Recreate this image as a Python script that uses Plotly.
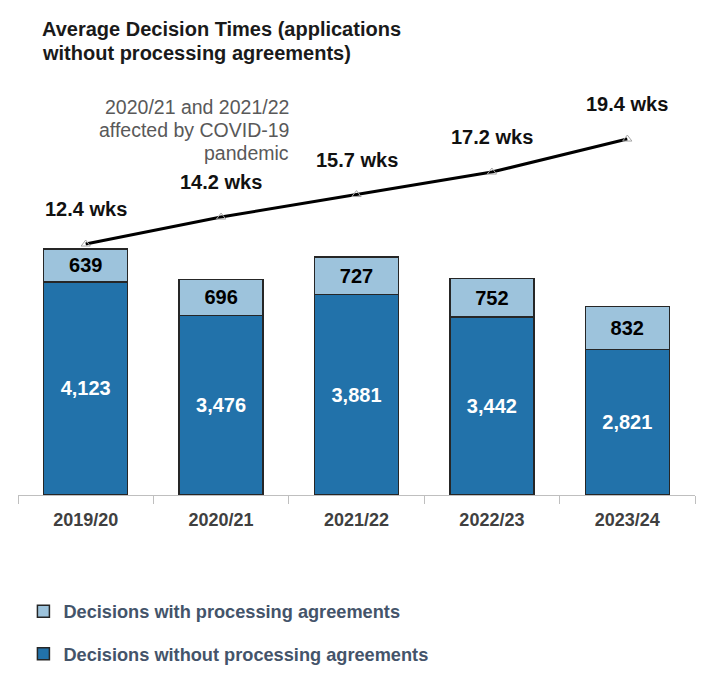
import plotly.graph_objects as go

years = ["2019/20", "2020/21", "2021/22", "2022/23", "2023/24"]
without_pa = [4123, 3476, 3881, 3442, 2821]
with_pa = [639, 696, 727, 752, 832]
avg_weeks = [12.4, 14.2, 15.7, 17.2, 19.4]

title_lines = ["Average Decision Times (applications", "without processing agreements)"]
note_lines = ["2020/21 and 2021/22", "affected by COVID-19", "pandemic"]

FONT = "Liberation Sans, Arial, sans-serif"
DARK = "#2272AA"
LIGHT = "#9DC3DC"
EDGE = "#262626"

fig = go.Figure()

fig.add_trace(go.Bar(
    x=years, y=without_pa, name="Decisions without processing agreements",
    marker=dict(color=DARK, line=dict(color=EDGE, width=1.5)),
    texttemplate="%{y:,}", textposition="inside", insidetextanchor="middle",
    textangle=0, constraintext="none",
    textfont=dict(family=FONT, size=20, color="white", weight="bold"),
    legendgroup="b", legendrank=2, width=0.62,
))
fig.add_trace(go.Bar(
    x=years, y=with_pa, name="Decisions with processing agreements",
    marker=dict(color=LIGHT, line=dict(color=EDGE, width=1.5)),
    texttemplate="%{y:,}", textposition="inside", insidetextanchor="middle",
    textangle=0, constraintext="none",
    textfont=dict(family=FONT, size=20, color="black", weight="bold"),
    legendgroup="a", legendrank=1, width=0.62,
))
fig.add_trace(go.Scatter(
    x=years, y=avg_weeks, yaxis="y2", mode="lines+markers",
    line=dict(color="black", width=3),
    marker=dict(symbol="triangle-up-open", size=8, color="#A6A6A6", line=dict(width=1)),
    showlegend=False, hoverinfo="skip",
))

for yr, wk in zip(years, avg_weeks):
    fig.add_annotation(
        x=yr, y=wk, yref="y2", text=f"{wk} wks", showarrow=False,
        yshift=35, font=dict(family=FONT, size=20, color="#111111", weight="bold"),
    )

for i, line in enumerate(title_lines):
    fig.add_annotation(
        xref="paper", yref="paper", x=0.0325, y=1.0713 - i * 0.0552,
        xanchor="left", yanchor="middle", text=line, showarrow=False,
        font=dict(family=FONT, size=20, color="#1a1a1a", weight="bold"),
    )

for i, line in enumerate(note_lines):
    fig.add_annotation(
        xref="paper", yref="paper", x=0.4033, y=0.892 - i * 0.053,
        xanchor="right", yanchor="middle", text=line, showarrow=False,
        font=dict(family=FONT, size=19.5, color="#595959"),
    )

fig.update_layout(
    width=722, height=688,
    barmode="stack",
    paper_bgcolor="white", plot_bgcolor="white",
    margin=dict(l=10, r=35, t=52, b=201),
    xaxis=dict(
        showline=True, linecolor="#BFBFBF", linewidth=1,
        ticks="outside", tickson="boundaries", ticklen=8, tickcolor="#BFBFBF",
        ticklabelstandoff=8,
        tickfont=dict(family=FONT, size=18, color="#404040", weight="bold"),
        showgrid=False, range=[-0.5, 4.5],
    ),
    yaxis=dict(visible=False, range=[0, 8420]),
    yaxis2=dict(visible=False, overlaying="y", range=[-4.33, 24.67]),
    legend=dict(
        x=0.008, y=-0.225, xanchor="left", yanchor="top",
        traceorder="grouped", tracegroupgap=16,
        font=dict(family=FONT, size=18.2, color="#44546A", weight="bold"),
    ),
    showlegend=True,
)

fig.write_html("out.html")
